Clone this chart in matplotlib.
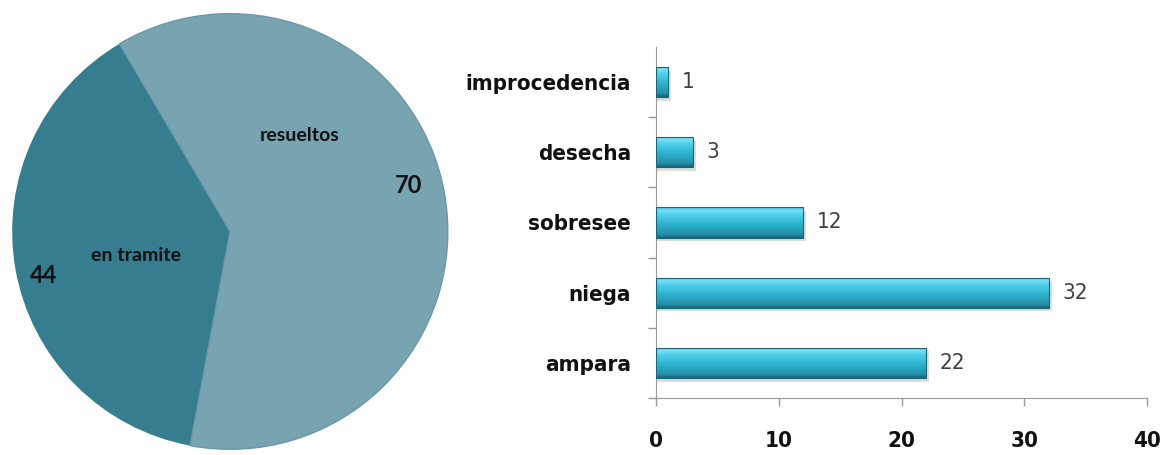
import matplotlib.pyplot as plt
import numpy as np
from matplotlib.colors import LinearSegmentedColormap

# pie data
pie_labels = ['en tramite', 'resueltos']
pie_values = [44, 70]
pie_colors = ['#367d90', '#78a3b1']

# bar data (bottom to top)
bar_labels = ['ampara', 'niega', 'sobresee', 'desecha', 'improcedencia']
bar_values = [22, 32, 12, 3, 1]
x_ticks = [0, 10, 20, 30, 40]

narrow = {'family': 'DejaVu Sans', 'stretch': 'condensed'}

fig = plt.figure(figsize=(11.66, 4.55), dpi=100)

# ---- pie ----
ax1 = fig.add_axes([10 / 1166, 2 / 455, 440 / 1166, 443 / 455])
wedges, texts, autotexts = ax1.pie(
    pie_values, colors=pie_colors, startangle=120.5, counterclock=True,
    autopct=lambda p: f'{p * sum(pie_values) / 100:.0f}', pctdistance=0.86,
    wedgeprops={'edgecolor': 'none'},
    textprops={'family': 'Lato', 'fontweight': 'bold', 'fontsize': 17, 'color': '#111111'},
)
wedges[1].set_edgecolor('#6b98a8')
wedges[1].set_linewidth(1)
autotexts[0].set_position((-0.855, -0.2))
autotexts[1].set_position((0.82, 0.21))
ax1.text(-0.43, -0.11, pie_labels[0], ha='center', va='center',
         family='Lato', fontweight='bold', fontsize=14, color='#111111')
ax1.text(0.32, 0.44, pie_labels[1], ha='center', va='center',
         family='Lato', fontweight='bold', fontsize=14, color='#111111')
ax1.set_xlim(-1.01, 1.01)
ax1.set_ylim(-1.01, 1.01)

# ---- bars ----
ax2 = fig.add_axes([656 / 1166, 57 / 455, 491 / 1166, 351 / 455])
y = np.arange(len(bar_labels))
h = 0.43

# soft shadow
ax2.barh(y - 0.05, np.array(bar_values) + 0.25, height=h, color='#7a7a7a',
         alpha=0.25, edgecolor='none', zorder=1)
bars = ax2.barh(y, bar_values, height=h, color='none', edgecolor='#1d6676',
                linewidth=0.8, zorder=3)

cmap = LinearSegmentedColormap.from_list('bar', [
    (0.0, '#1a6474'), (0.12, '#2590a9'), (0.45, '#2db3cf'),
    (0.75, '#4fd0ec'), (0.9, '#7ae3f6'), (1.0, '#3fb7d2')])
grad = np.linspace(0, 1, 100).reshape(-1, 1)
for b in bars:
    x0, y0 = b.get_x(), b.get_y()
    im = ax2.imshow(grad, cmap=cmap, origin='lower', aspect='auto',
                    extent=(x0, x0 + b.get_width(), y0, y0 + b.get_height()),
                    zorder=2)
    im.set_clip_path(b)

ax2.bar_label(bars, labels=[str(v) for v in bar_values], padding=10,
              fontsize=16, color='#404040', **narrow)

ax2.set_xlim(0, 40)
ax2.set_ylim(-0.5, 4.5)
ax2.set_xticks(x_ticks)
ax2.set_xticklabels([str(t) for t in x_ticks], fontsize=16,
                    fontweight='bold', color='#111111', **narrow)
ax2.set_yticks(y)
ax2.set_yticklabels(bar_labels, fontsize=16,
                    fontweight='bold', color='#111111', **narrow)
ax2.set_yticks(np.arange(-0.5, 3.6, 1), minor=True)
ax2.tick_params(axis='y', which='major', length=0, pad=18)
ax2.tick_params(axis='y', which='minor', length=6, color='#999999', width=1)
ax2.tick_params(axis='x', length=6, color='#999999', width=1, pad=18)
for s in ['top', 'right']:
    ax2.spines[s].set_visible(False)
for s in ['left', 'bottom']:
    ax2.spines[s].set_color('#999999')
ax2.patch.set_visible(False)

fig.savefig('out.png', dpi=100)
